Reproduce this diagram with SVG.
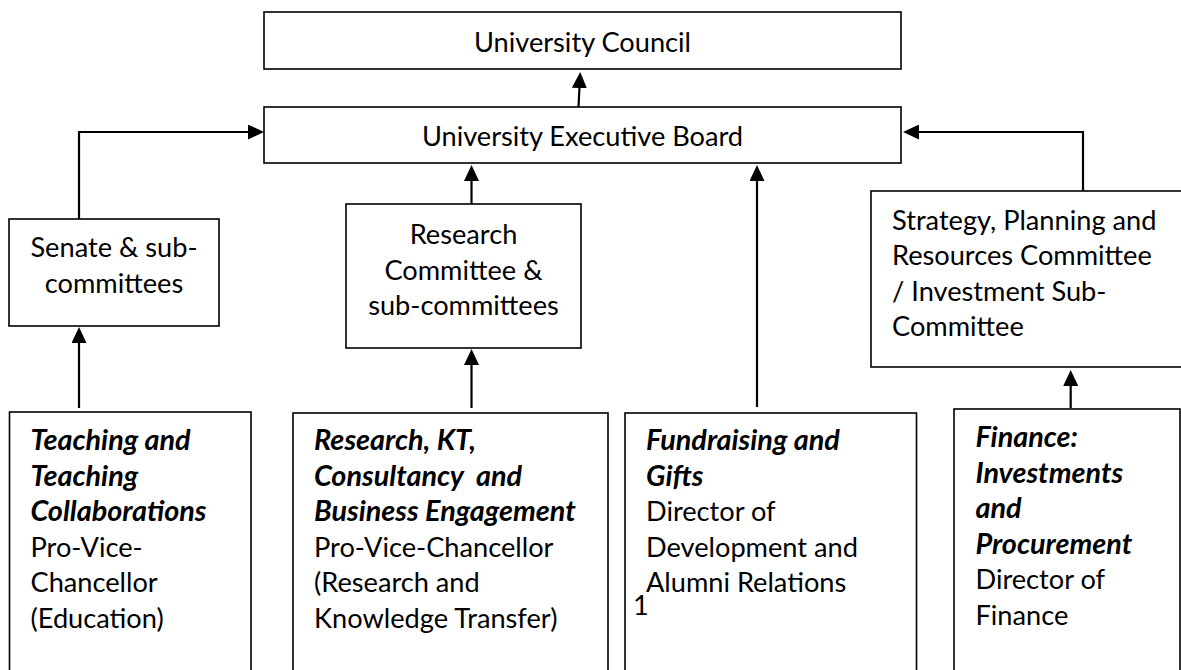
<svg xmlns="http://www.w3.org/2000/svg" width="1181" height="670" viewBox="0 0 1181 670">
<style>
.box{fill:#fff;stroke:#000;stroke-width:1.6}
.t{font-family:Lato,"Carlito","Liberation Sans",sans-serif;font-size:27.2px;fill:#000}
.c{text-anchor:middle}
.b{font-weight:bold;font-style:italic;font-size:28.8px}
.con{fill:none;stroke:#000;stroke-width:2.2}
</style>
<defs>
<marker id="ah" viewBox="0 0 16 15" refX="1" refY="7.5" markerWidth="16" markerHeight="15" markerUnits="userSpaceOnUse" orient="auto">
<path d="M0,0 L16,7.5 L0,15 z" fill="#000"/>
</marker>
</defs>
<rect width="1181" height="670" fill="#fff"/>

<g id="council">
<rect class="box" x="264" y="12" width="637" height="57"/>
<text class="t c" x="582.5" y="52">University Council</text>
</g>

<g id="exec">
<rect class="box" x="264" y="107" width="637" height="56"/>
<text class="t c" x="582.5" y="146">University Executive Board</text>
</g>

<g id="senate">
<rect class="box" x="9" y="219" width="210" height="107"/>
<text class="t c" x="114" y="257">Senate &amp; sub-</text>
<text class="t c" x="114" y="292.5">committees</text>
</g>

<g id="rescommittee">
<rect class="box" x="346" y="204" width="235" height="144"/>
<text class="t c" x="463.5" y="244">Research</text>
<text class="t c" x="463.5" y="279.5">Committee &amp;</text>
<text class="t c" x="463.5" y="315">sub-committees</text>
</g>

<g id="strategy">
<rect class="box" x="871" y="191" width="340" height="176"/>
<text class="t" x="892" y="229.5">Strategy, Planning and</text>
<text class="t" x="892" y="265">Resources Committee</text>
<text class="t" x="892" y="300.5">/ Investment Sub-</text>
<text class="t" x="892" y="336">Committee</text>
</g>

<g id="teaching">
<rect class="box" x="9.5" y="412" width="241.5" height="300"/>
<text class="t b" x="30.5" y="450">Teaching and</text>
<text class="t b" x="30.5" y="485.5">Teaching</text>
<text class="t b" x="30.5" y="521">Collaborations</text>
<text class="t" x="30.5" y="556.5">Pro-Vice-</text>
<text class="t" x="30.5" y="592">Chancellor</text>
<text class="t" x="30.5" y="627.5">(Education)</text>
</g>

<g id="research">
<rect class="box" x="293" y="413" width="315" height="300"/>
<text class="t b" x="314" y="450">Research, KT,</text>
<text class="t b" x="314" y="485.5" xml:space="preserve">Consultancy  and</text>
<text class="t b" x="314" y="521">Business Engagement</text>
<text class="t" x="314" y="556.5">Pro-Vice-Chancellor</text>
<text class="t" x="314" y="592">(Research and</text>
<text class="t" x="314" y="627.5">Knowledge Transfer)</text>
</g>

<g id="fundraising">
<rect class="box" x="625" y="413" width="291.5" height="300"/>
<text class="t b" x="646" y="450">Fundraising and</text>
<text class="t b" x="646" y="485.5">Gifts</text>
<text class="t" x="646" y="521">Director of</text>
<text class="t" x="646" y="556.5">Development and</text>
<text class="t" x="646" y="592">Alumni Relations</text>
</g>

<g id="finance">
<rect class="box" x="954" y="409" width="226" height="300"/>
<text class="t b" x="975.5" y="447">Finance:</text>
<text class="t b" x="975.5" y="482.5">Investments</text>
<text class="t b" x="975.5" y="518">and</text>
<text class="t b" x="975.5" y="553.5">Procurement</text>
<text class="t" x="975.5" y="589">Director of</text>
<text class="t" x="975.5" y="624.5">Finance</text>
</g>

<g id="footnote">
<text class="t" x="633" y="615">1</text>
</g>

<g id="connectors">
<path class="con" d="M578.5,107 L579.5,87" marker-end="url(#ah)"/>
<path class="con" d="M79,219 L79,132 L249,132" marker-end="url(#ah)"/>
<path class="con" d="M471.5,204 L471.5,180" marker-end="url(#ah)"/>
<path class="con" d="M757,407 L757,180" marker-end="url(#ah)"/>
<path class="con" d="M1083,191 L1083,132 L918,132" marker-end="url(#ah)"/>
<path class="con" d="M79,408 L79,342" marker-end="url(#ah)"/>
<path class="con" d="M471.5,408 L471.5,364" marker-end="url(#ah)"/>
<path class="con" d="M1070.7,408 L1070.7,385" marker-end="url(#ah)"/>
</g>
</svg>
